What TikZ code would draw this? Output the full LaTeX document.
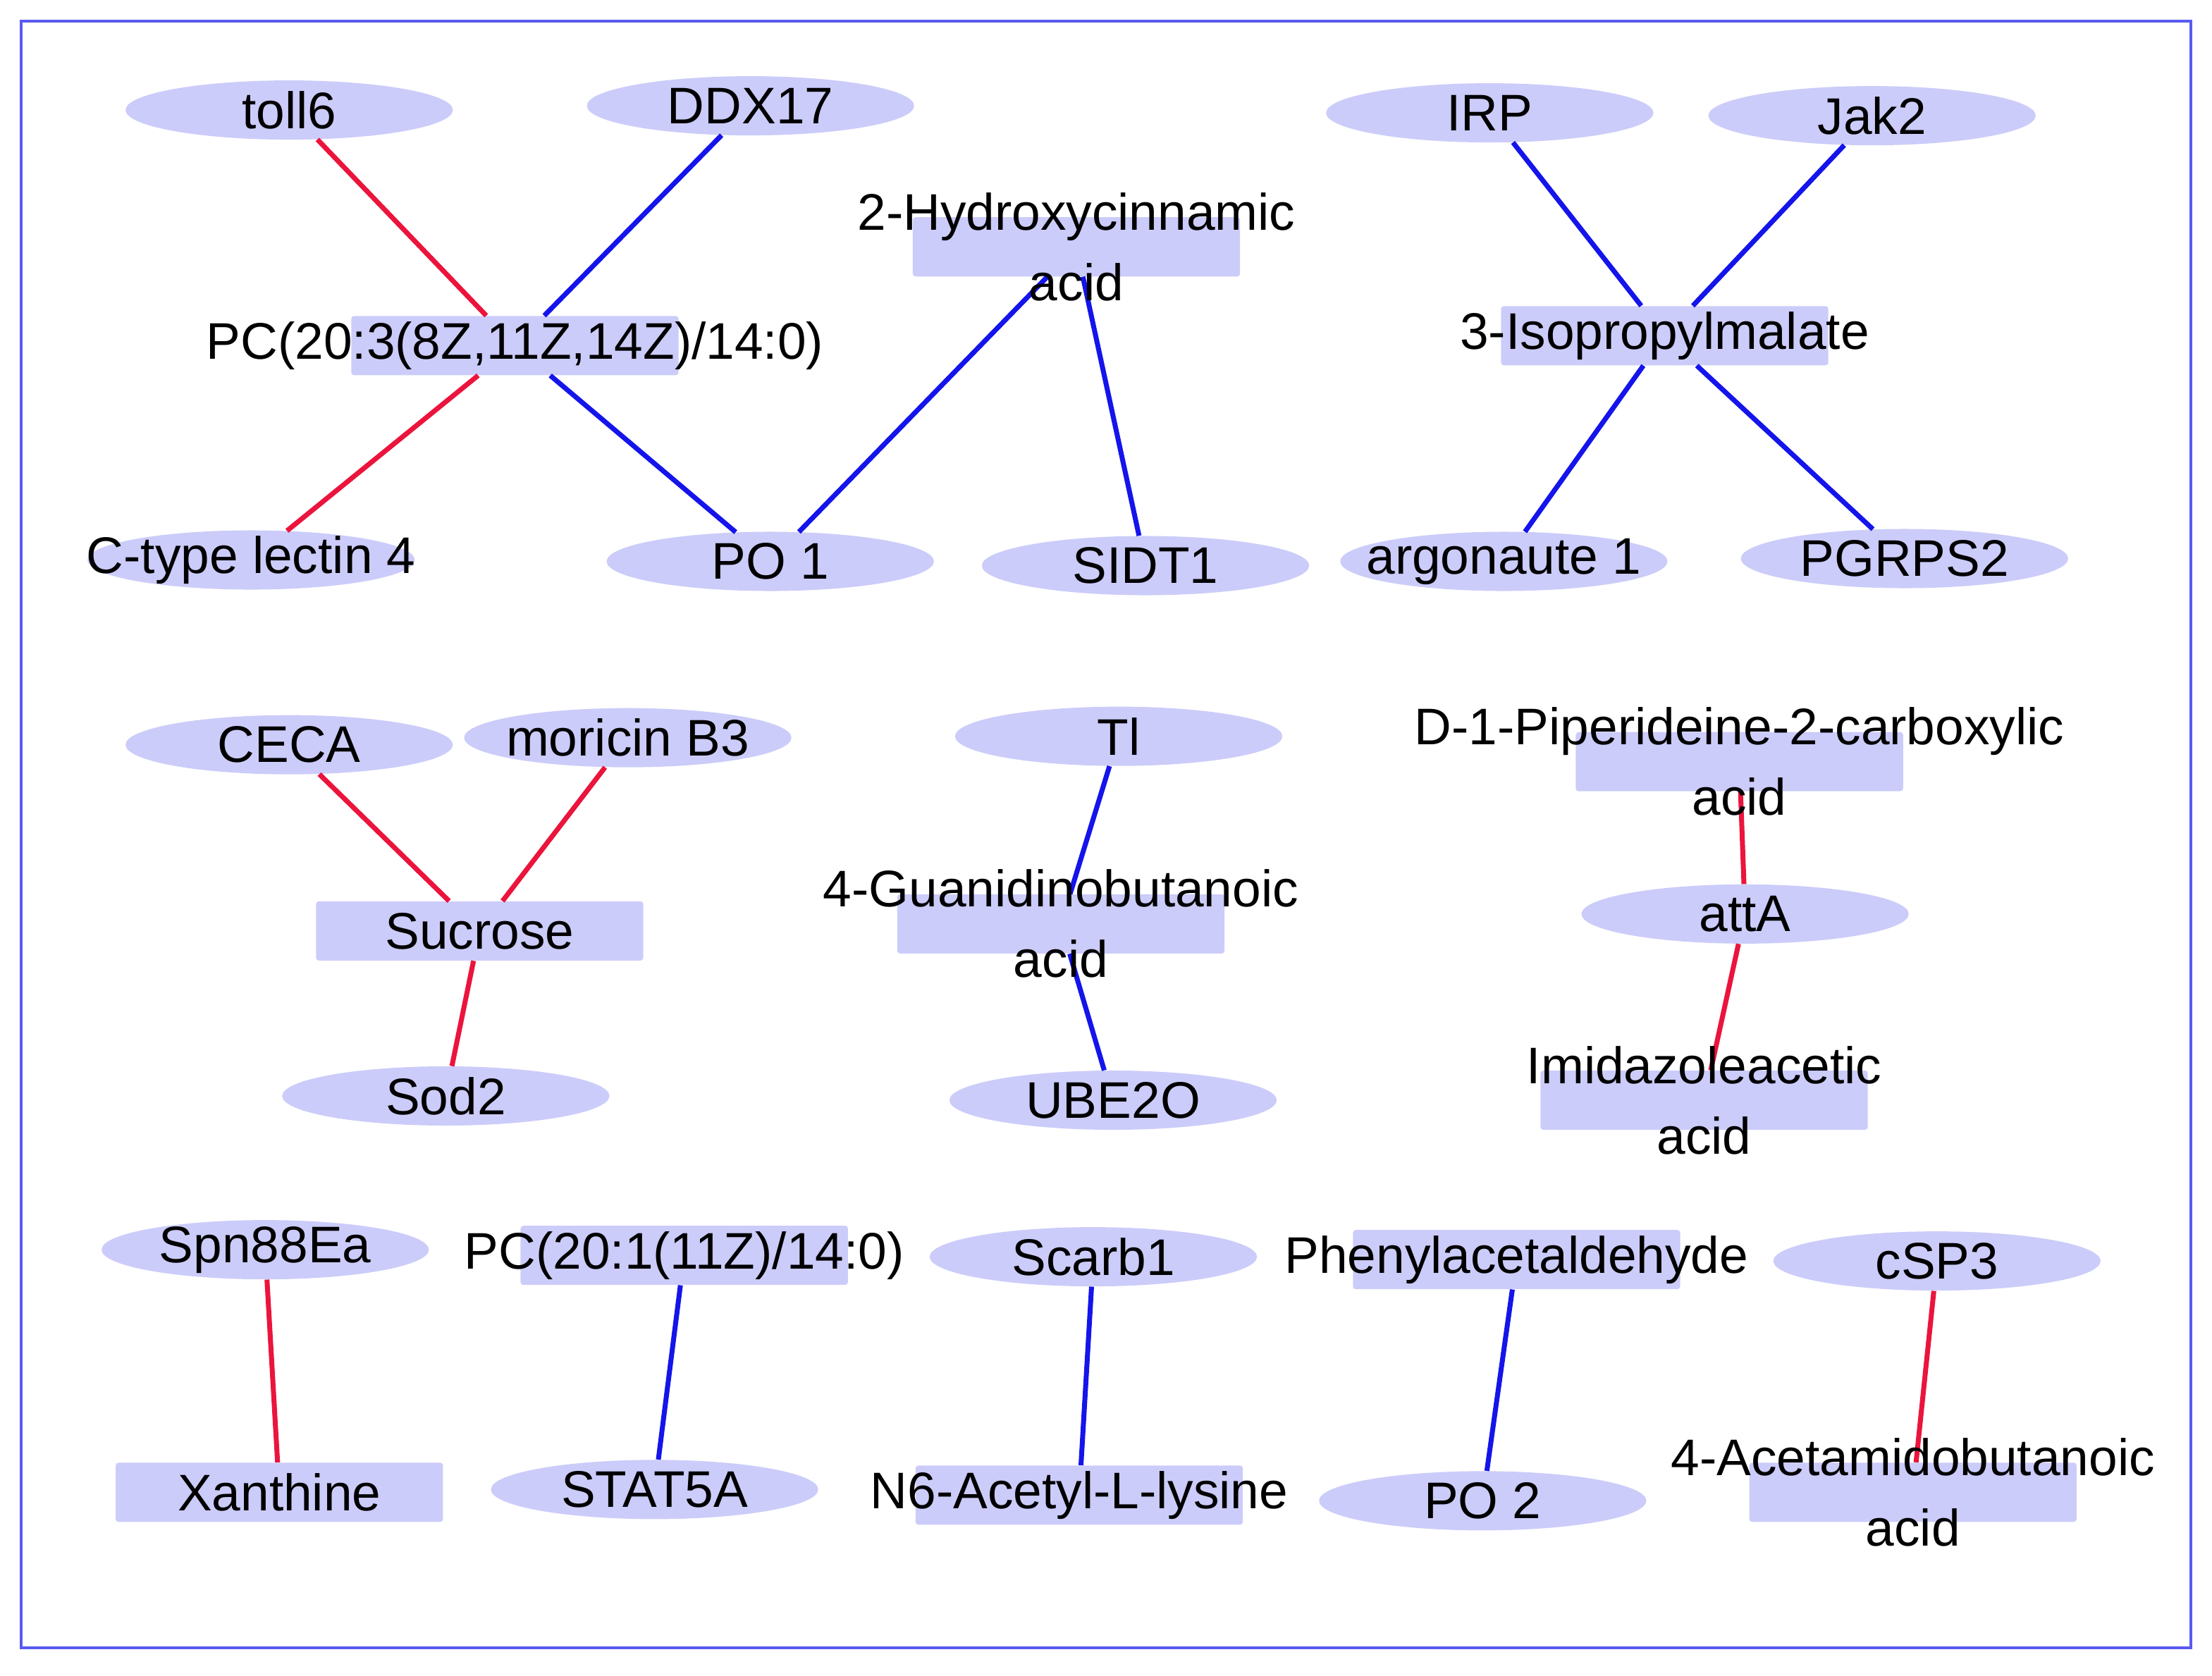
\documentclass[tikz,border=0pt]{standalone}
\usepackage{fontspec}
\setmainfont{Liberation Sans}
\usetikzlibrary{shapes.geometric}
\definecolor{nfill}{RGB}{204,204,250}
\definecolor{ered}{RGB}{235,20,60}
\definecolor{eblue}{RGB}{20,20,235}
\begin{document}
\begin{tikzpicture}[x=1pt,y=-1pt,
 ell/.style={ellipse,fill=nfill,minimum width=232pt,minimum height=42pt,inner sep=0pt},
 box/.style={rectangle,fill=nfill,minimum width=232pt,minimum height=42pt,inner sep=0pt,rounded corners=2pt},
 lbl/.style={font=\fontsize{36.5}{50}\selectfont,align=center,inner sep=0pt},
 re/.style={draw=ered,line width=3.5pt},
 be/.style={draw=eblue,line width=3.5pt}]
\useasboundingbox (0,0) rectangle (1568,1188);
\draw[draw=eblue!70,line width=2pt] (15,15) rectangle (1553,1168);
% shapes
\node[ell] (toll6) at (205,78) {};
\node[ell] (DDX17) at (532,75) {};
\node[ell] (Ctype) at (178,397) {};
\node[ell] (PO1) at (546,398) {};
\node[ell] (SIDT1) at (812,401) {};
\node[ell] (IRP) at (1056,80) {};
\node[ell] (Jak2) at (1327,82) {};
\node[ell] (argo) at (1066,398) {};
\node[ell] (PGRPS2) at (1350,396) {};
\node[ell] (CECA) at (205,528) {};
\node[ell] (moricin) at (445,523) {};
\node[ell] (Sod2) at (316,777) {};
\node[ell] (Tl) at (793,522) {};
\node[ell] (UBE2O) at (789,780) {};
\node[ell] (attA) at (1237,648) {};
\node[ell] (Spn) at (188,886) {};
\node[ell] (Scarb1) at (775,891) {};
\node[ell] (cSP3) at (1373,894) {};
\node[ell] (STAT5A) at (464,1056) {};
\node[ell] (PO2) at (1051,1064) {};
\node[box] (PCa) at (365,245) {};
\node[box] (Hyd) at (763,175) {};
\node[box] (Iso) at (1180,238) {};
\node[box] (Suc) at (340,660) {};
\node[box] (Gua) at (752,655) {};
\node[box] (Pip) at (1233,540) {};
\node[box] (Imi) at (1208,780) {};
\node[box] (PCb) at (485,890) {};
\node[box] (Phe) at (1075,893) {};
\node[box] (Xan) at (198,1058) {};
\node[box] (N6) at (765,1060) {};
\node[box] (Ace) at (1356,1058) {};
% edges
\draw[re] (toll6) -- (PCa);
\draw[be] (DDX17) -- (PCa);
\draw[re] (PCa) -- (Ctype);
\draw[be] (PCa) -- (PO1);
\draw[be] (PO1) -- (Hyd);
\draw[be] (Hyd) -- (SIDT1);
\draw[be] (IRP) -- (Iso);
\draw[be] (Jak2) -- (Iso);
\draw[be] (Iso) -- (argo);
\draw[be] (Iso) -- (PGRPS2);
\draw[re] (CECA) -- (Suc);
\draw[re] (moricin) -- (Suc);
\draw[re] (Suc) -- (Sod2);
\draw[be] (Tl) -- (Gua);
\draw[be] (Gua) -- (UBE2O);
\draw[re] (Pip) -- (attA);
\draw[re] (attA) -- (Imi);
\draw[re] (Spn) -- (Xan);
\draw[be] (PCb) -- (STAT5A);
\draw[be] (Scarb1) -- (N6);
\draw[be] (Phe) -- (PO2);
\draw[re] (cSP3) -- (Ace);
% labels
\foreach \n/\t in {toll6/toll6,DDX17/DDX17,PO1/PO 1,SIDT1/SIDT1,IRP/IRP,Jak2/Jak2,argo/argonaute 1,PGRPS2/PGRPS2,CECA/CECA,moricin/moricin B3,Sod2/Sod2,Tl/Tl,UBE2O/UBE2O,attA/attA,Spn/Spn88Ea,Scarb1/Scarb1,cSP3/cSP3,STAT5A/STAT5A,PO2/PO 2,Iso/3-Isopropylmalate,Suc/Sucrose,Phe/Phenylacetaldehyde,Xan/Xanthine,N6/N6-Acetyl-L-lysine}
 \node[lbl] at (\n) {\t};
\node[lbl] at (Ctype) {C-type lectin 4};
\node[lbl] at (PCa) {PC(20:3(8Z,11Z,14Z)/14:0)};
\node[lbl] at (PCb) {PC(20:1(11Z)/14:0)};
\node[lbl] at (Hyd) {2-Hydroxycinnamic\\acid};
\node[lbl] at (Gua) {4-Guanidinobutanoic\\acid};
\node[lbl] at (Pip) {D-1-Piperideine-2-carboxylic\\acid};
\node[lbl] at (Imi) {Imidazoleacetic\\acid};
\node[lbl] at (Ace) {4-Acetamidobutanoic\\acid};
\end{tikzpicture}
\end{document}
